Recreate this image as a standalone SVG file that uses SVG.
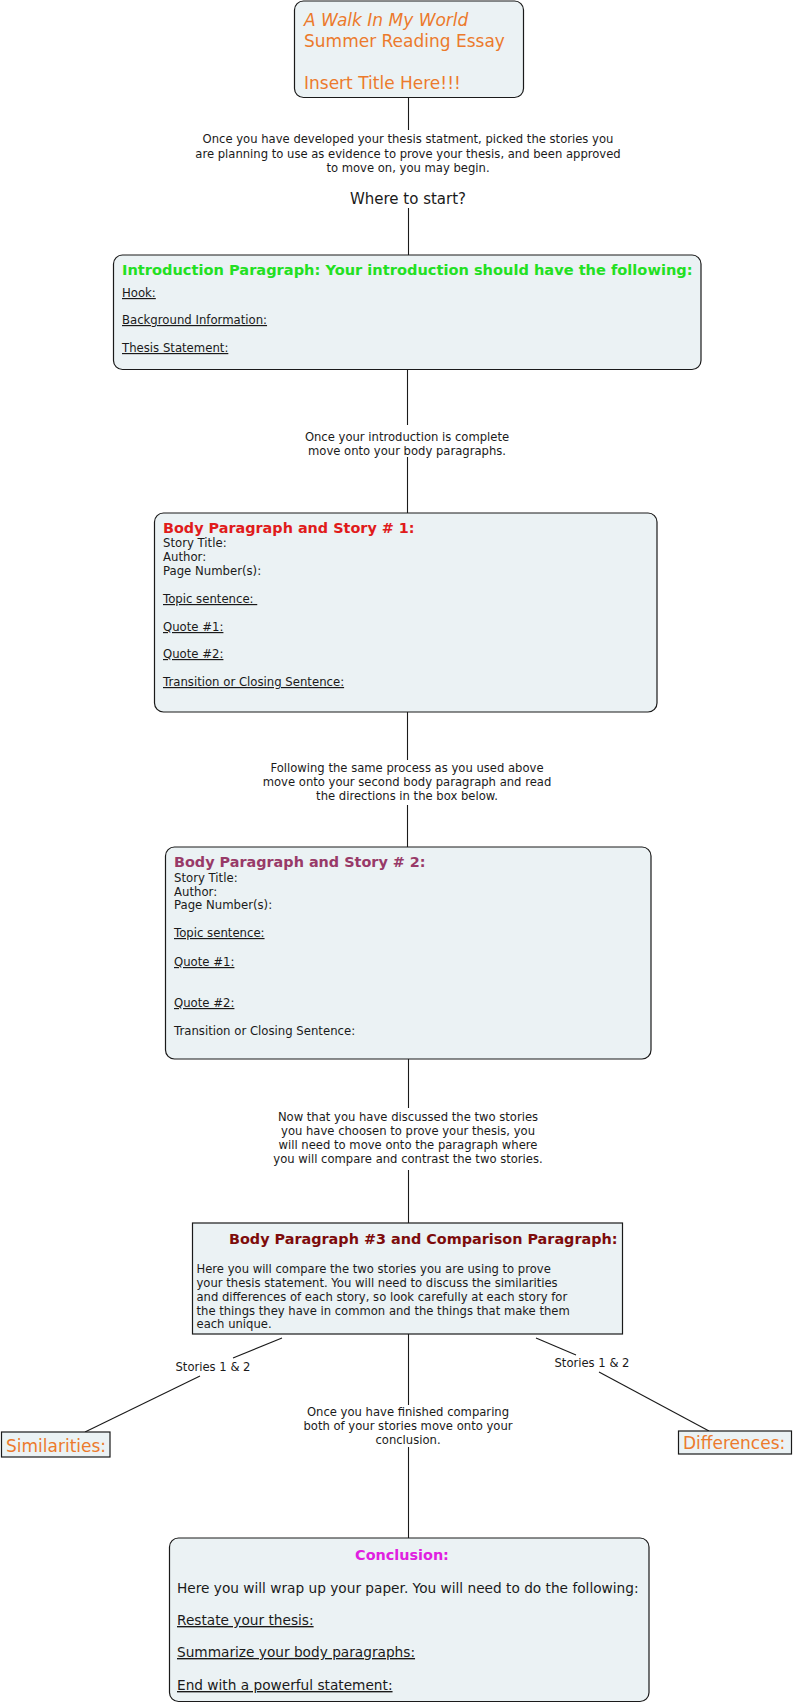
<svg xmlns="http://www.w3.org/2000/svg" width="793" height="1703" viewBox="0 0 793 1703">
<style>
text{font-family:"DejaVu Sans","Liberation Sans",sans-serif;fill:#1a1a1a}
.box{fill:#ebf2f4;stroke:#1a1a1a;stroke-width:1.2}
.lbl{font-size:11.6px;text-anchor:middle}
.t{font-size:11.7px}
.u{text-decoration:underline}
.h{font-size:14.4px;font-weight:bold}
.or{fill:#ec7a2c}
.c{font-size:13.7px}
.con line{stroke:#1a1a1a;stroke-width:1.1}
</style>
<rect width="793" height="1703" fill="#ffffff"/>
<g id="connectors" class="con">
<line x1="408.5" y1="98" x2="408.5" y2="130"/>
<line x1="408.5" y1="208" x2="408.5" y2="255"/>
<line x1="407.5" y1="370" x2="407.5" y2="425"/>
<line x1="407.5" y1="457" x2="407.5" y2="513"/>
<line x1="407.5" y1="712" x2="407.5" y2="760"/>
<line x1="407.5" y1="805" x2="407.5" y2="847"/>
<line x1="408.5" y1="1059" x2="408.5" y2="1108"/>
<line x1="408.5" y1="1170" x2="408.5" y2="1223"/>
<line x1="408.5" y1="1334" x2="408.5" y2="1405"/>
<line x1="408.5" y1="1447" x2="408.5" y2="1538"/>
<line x1="282" y1="1338" x2="233" y2="1358"/>
<line x1="200" y1="1376" x2="85" y2="1432"/>
<line x1="536" y1="1338" x2="576" y2="1355"/>
<line x1="599" y1="1372" x2="709" y2="1431"/>
<text class="lbl" x="408" y="143">Once you have developed your thesis statment, picked the stories you</text>
<text class="lbl" x="408" y="158">are planning to use as evidence to prove your thesis, and been approved</text>
<text class="lbl" x="408" y="172">to move on, you may begin.</text>
<text x="408" y="204" style="font-size:15px;text-anchor:middle">Where to start?</text>
<text class="lbl" x="407" y="441">Once your introduction is complete</text>
<text class="lbl" x="407" y="455">move onto your body paragraphs.</text>
<text class="lbl" x="407" y="772">Following the same process as you used above</text>
<text class="lbl" x="407" y="786">move onto your second body paragraph and read</text>
<text class="lbl" x="407" y="800">the directions in the box below.</text>
<text class="lbl" x="408" y="1121">Now that you have discussed the two stories</text>
<text class="lbl" x="408" y="1135">you have choosen to prove your thesis, you</text>
<text class="lbl" x="408" y="1149">will need to move onto the paragraph where</text>
<text class="lbl" x="408" y="1163">you will compare and contrast the two stories.</text>
<text class="lbl" x="408" y="1416">Once you have finished comparing</text>
<text class="lbl" x="408" y="1430">both of your stories move onto your</text>
<text class="lbl" x="408" y="1444">conclusion.</text>
<text class="lbl" x="213" y="1371">Stories 1 &amp; 2</text>
<text class="lbl" x="592" y="1367">Stories 1 &amp; 2</text>
</g>
<g id="title">
<rect class="box" x="294.5" y="1" width="229" height="96.5" rx="9"/>
<text class="or" x="304" y="26" style="font-size:17px;font-style:italic">A Walk In My World</text>
<text class="or" x="304" y="47" style="font-size:17px">Summer Reading Essay</text>
<text class="or" x="304" y="89" style="font-size:17px">Insert Title Here!!!</text>
</g>
<g id="intro">
<rect class="box" x="113.5" y="255" width="587.5" height="114.5" rx="9"/>
<text class="h" x="122" y="275" style="fill:#22e022;font-size:14.6px">Introduction Paragraph: Your introduction should have the following:</text>
<text class="t u" x="122" y="297">Hook:</text>
<text class="t u" x="122" y="324">Background Information:</text>
<text class="t u" x="122" y="352">Thesis Statement:</text>
</g>
<g id="body1">
<rect class="box" x="154.5" y="513" width="502.5" height="199" rx="9"/>
<text class="h" x="163" y="533" style="fill:#e01b1b">Body Paragraph and Story # 1:</text>
<text class="t" x="163" y="547">Story Title:</text>
<text class="t" x="163" y="561">Author:</text>
<text class="t" x="163" y="575">Page Number(s):</text>
<text class="t u" x="163" y="603">Topic sentence:&#160;</text>
<text class="t u" x="163" y="631">Quote #1:</text>
<text class="t u" x="163" y="658">Quote #2:</text>
<text class="t u" x="163" y="686">Transition or Closing Sentence:</text>
</g>
<g id="body2">
<rect class="box" x="165.5" y="847" width="485.5" height="212" rx="9"/>
<text class="h" x="174" y="867" style="fill:#983a68">Body Paragraph and Story # 2:</text>
<text class="t" x="174" y="882">Story Title:</text>
<text class="t" x="174" y="896">Author:</text>
<text class="t" x="174" y="909">Page Number(s):</text>
<text class="t u" x="174" y="937">Topic sentence:</text>
<text class="t u" x="174" y="966">Quote #1:</text>
<text class="t u" x="174" y="1007">Quote #2:</text>
<text class="t" x="174" y="1035">Transition or Closing Sentence:</text>
</g>
<g id="body3">
<rect class="box" x="192.5" y="1223" width="430" height="111"/>
<text class="h" x="229" y="1244" style="fill:#7d0b0b">Body Paragraph #3 and Comparison Paragraph:</text>
<text class="t" x="196.5" y="1273" style="font-size:11.6px">Here you will compare the two stories you are using to prove</text>
<text class="t" x="196.5" y="1287" style="font-size:11.6px">your thesis statement. You will need to discuss the similarities</text>
<text class="t" x="196.5" y="1301" style="font-size:11.6px">and differences of each story, so look carefully at each story for</text>
<text class="t" x="196.5" y="1315" style="font-size:11.6px">the things they have in common and the things that make them</text>
<text class="t" x="196.5" y="1328" style="font-size:11.6px">each unique.</text>
</g>
<g id="similarities">
<rect class="box" x="1.5" y="1432" width="108.5" height="25"/>
<text class="or" x="6" y="1452" style="font-size:17px">Similarities:</text>
</g>
<g id="differences">
<rect class="box" x="678.5" y="1431" width="113" height="23"/>
<text class="or" x="683" y="1449" style="font-size:17px">Differences:</text>
</g>
<g id="conclusion">
<rect class="box" x="169.5" y="1538" width="479.5" height="163.5" rx="9"/>
<text class="h" x="402" y="1560" style="fill:#e020e0;text-anchor:middle">Conclusion:</text>
<text class="c" x="177" y="1593">Here you will wrap up your paper. You will need to do the following:</text>
<text class="c u" x="177" y="1625">Restate your thesis:</text>
<text class="c u" x="177" y="1657">Summarize your body paragraphs:</text>
<text class="c u" x="177" y="1690">End with a powerful statement:</text>
</g>
</svg>
